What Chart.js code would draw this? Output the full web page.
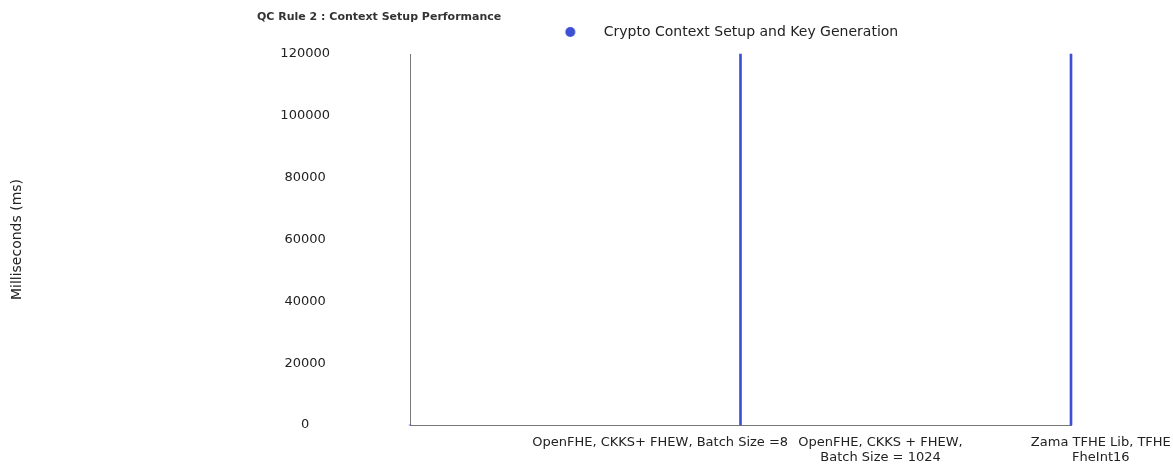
<!DOCTYPE html>
<html>
<head>
<meta charset="utf-8">
<title>QC Rule 2 : Context Setup Performance</title>
<script src="https://cdn.jsdelivr.net/npm/chart.js@4/dist/chart.umd.min.js"></script>
<style>
  html, body { margin: 0; padding: 0; background: #fff; }
</style>
</head>
<body>
<canvas id="chartContainer" width="1173" height="464"></canvas>
<script>
// values
const categories = [
    'OpenFHE, CKKS+ FHEW, Batch Size =8',
    ['OpenFHE, CKKS + FHEW,', 'Batch Size = 1024'],
    ['Zama TFHE Lib, TFHE', 'FheInt16']
];
const setupTimes = [0, 120000, 120000]; // bars run to the top of the axis
const yTicks = [0, 20000, 40000, 60000, 80000, 100000, 120000];
const seriesName = 'Crypto Context Setup and Key Generation';
const chartTitle = 'QC Rule 2 : Context Setup Performance';
const yTitle = 'Milliseconds (ms)';

const barColor = '#3d50d3';
const textColor = '#222';
const axisColor = '#777';

Chart.defaults.font.family = '"DejaVu Sans", sans-serif';
Chart.defaults.color = textColor;

// legend dot sits well left of its text, so use a wide transparent canvas
function makeLegendDot(color) {
    let c = document.createElement('canvas');
    c.width = 60;
    c.height = 12;
    let g = c.getContext('2d');
    g.fillStyle = color;
    g.beginPath();
    g.arc(10.5, 6, 5, 0, Math.PI * 2);
    g.fill();
    return c;
}

// small bold title in the top left
const cornerTitle = {
    id: 'cornerTitle',
    afterDraw(chart) {
        let ctx = chart.ctx;
        ctx.save();
        ctx.font = 'bold 11px "DejaVu Sans"';
        ctx.fillStyle = '#333';
        ctx.textBaseline = 'middle';
        ctx.fillText(chartTitle, 257, 17);
        ctx.restore();
    }
};

// a bit more room between the legend and the plot
const legendGap = {
    id: 'legendGap',
    beforeLayout(chart) {
        let legend = chart.legend;
        if (legend && !legend._gapAdded) {
            let fit = legend.fit;
            legend.fit = function () {
                fit.apply(this, arguments);
                this.height += 5;
            };
            legend._gapAdded = true;
        }
    }
};

let chartContainer = document.getElementById('chartContainer');
let chart = new Chart(chartContainer, {
    type: 'bar',
    data: {
        labels: categories,
        datasets: [{
            label: seriesName,
            data: setupTimes,
            backgroundColor: barColor,
            borderWidth: 0,
            barThickness: 2,
            clip: false
        }]
    },
    options: {
        responsive: false,
        animation: false,
        layout: { padding: { left: 5, top: 10, right: 102, bottom: 0 } },
        plugins: {
            title: { display: false },
            tooltip: { enabled: false },
            legend: {
                position: 'top',
                fullSize: false,
                labels: {
                    usePointStyle: true,
                    pointStyle: makeLegendDot(barColor),
                    font: { size: 14 },
                    color: textColor,
                    padding: 15
                }
            }
        },
        scales: {
            x: {
                type: 'category',
                position: 'bottom',
                offset: false,
                grid: { display: false, drawTicks: false },
                border: { display: true, color: axisColor, width: 1 },
                ticks: { display: false }
            },
            // second axis only carries the category names
            xl: {
                type: 'category',
                position: 'bottom',
                offset: true,
                afterFit: (s) => { s.height = 39; },
                grid: { display: false, drawTicks: false },
                border: { display: false },
                ticks: {
                    font: { size: 13, lineHeight: 1.15 },
                    color: textColor,
                    padding: 10,
                    labelOffset: 140,
                    maxRotation: 0,
                    minRotation: 0,
                    autoSkip: false
                }
            },
            y: {
                min: yTicks[0],
                max: yTicks[yTicks.length - 1],
                afterBuildTicks: (s) => { s.ticks = yTicks.map(v => ({ value: v })); },
                afterFit: (s) => { s.width = 405; },
                // tick marks are hidden, their length only pushes the labels left
                grid: { display: false, drawTicks: true, tickLength: 77 },
                border: { display: true, color: axisColor, width: 1 },
                title: {
                    display: true,
                    text: yTitle,
                    font: { size: 14 },
                    color: textColor,
                    padding: { top: 4, bottom: 4 }
                },
                ticks: {
                    crossAlign: 'center',
                    padding: 3,
                    font: { size: 13 },
                    color: textColor,
                    callback: (value) => String(value)
                }
            }
        }
    },
    plugins: [cornerTitle, legendGap]
});
</script>
</body>
</html>
